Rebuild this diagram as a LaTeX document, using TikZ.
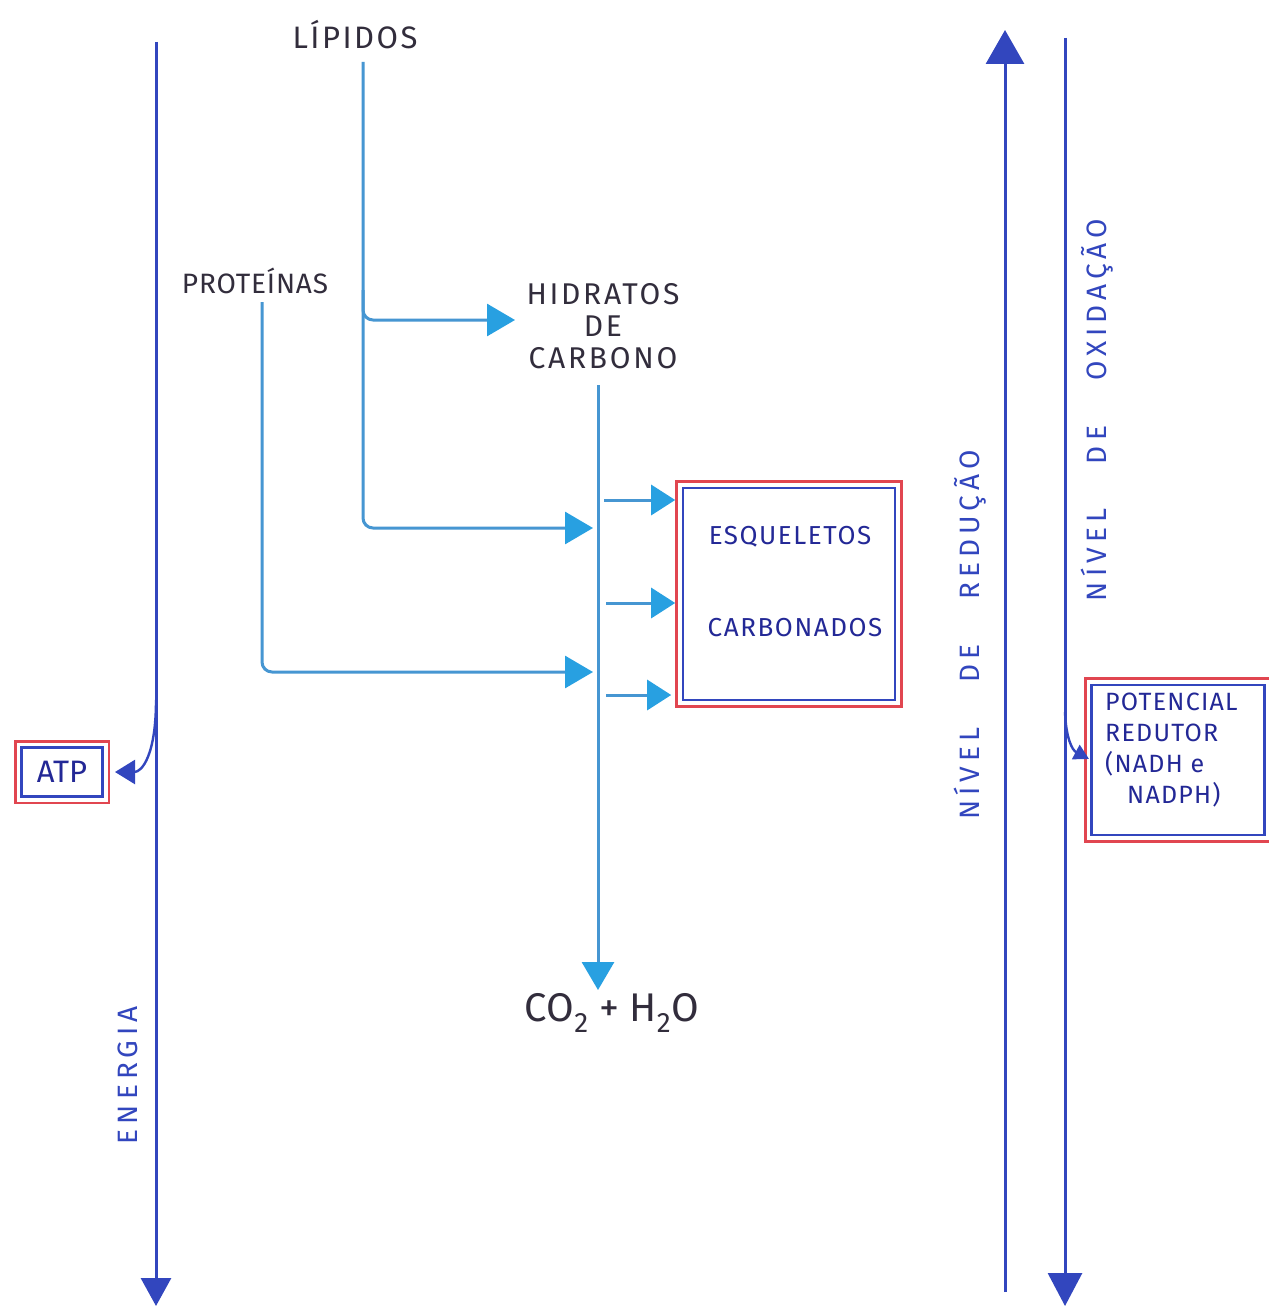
\documentclass[tikz,border=0pt]{standalone}
\usepackage{fontspec}
\setmainfont{Fira Sans}
\usetikzlibrary{arrows.meta,fit}
\definecolor{lb}{RGB}{70,150,210}
\definecolor{ah}{RGB}{40,160,225}
\definecolor{db}{RGB}{50,70,190}
\definecolor{tb}{RGB}{35,40,150}
\definecolor{tk}{RGB}{50,45,60}
\definecolor{rd}{RGB}{225,70,80}
\begin{document}
\begin{tikzpicture}[x=1pt,y=-1pt,
  flow/.style={draw=lb, line width=3pt, rounded corners=10pt},
  flowarrow/.style={flow, -{Triangle[length=28pt,width=32pt,color=ah]}},
  smallarrow/.style={flow, -{Triangle[length=24pt,width=30pt,color=ah]}},
  axis/.style={draw=db, line width=3pt},
  darklabel/.style={text=tk, inner sep=0pt, font=\fontsize{31}{34}\selectfont\addfontfeatures{LetterSpace=8}},
  bluelabel/.style={text=tb, inner sep=0pt, font=\fontsize{26}{31}\selectfont\addfontfeatures{LetterSpace=6}},
  sidelabel/.style={text=db, inner sep=0pt, rotate=90, font=\fontsize{28}{30}\selectfont\addfontfeatures{LetterSpace=18}},
  bluebox/.style={draw=db, line width=2.8pt, inner sep=0pt},
  redframe/.style={draw=rd, line width=2.8pt, inner sep=5pt}
]
\fill[white] (0,0) rectangle (1268,1308);
\useasboundingbox (0,0) rectangle (1268,1308);

% --- texts
\node[darklabel] (lip) at (355,35) {LÍPIDOS};
\node[darklabel, font=\fontsize{28}{30}\selectfont\addfontfeatures{LetterSpace=3}] (prot) at (255,281) {PROTEÍNAS};
\node[darklabel, align=center, font=\fontsize{30}{32}\selectfont\addfontfeatures{LetterSpace=9}] (hid) at (603,326) {HIDRATOS\\DE\\CARBONO};
\node[darklabel, font=\fontsize{40}{44}\selectfont] (co2) at (612,1013) {CO\textsubscript{2} + H\textsubscript{2}O};

% --- boxes
\node[bluebox, minimum width=212pt, minimum height=212pt] (esq) at (789,594) {};
\node[redframe, fit=(esq)] (esqr) {};
\node[bluelabel] (esq1) at (790,537) {ESQUELETOS};
\node[bluelabel] (esq2) at (795,628) {CARBONADOS};

\node[bluebox, minimum width=81pt, minimum height=49pt, text=tb, font=\fontsize{31}{34}\selectfont] (atp) at (62,772) {ATP};
\node[redframe, fit=(atp)] (atpr) {};

\node[bluebox, minimum width=173pt, minimum height=150pt] (pot) at (1178,760) {};
\node[redframe, fit=(pot)] (potr) {};
\node[bluelabel, anchor=north west, align=left, font=\fontsize{25}{31}\selectfont\addfontfeatures{LetterSpace=5}] (pott) at (1105,693) {POTENCIAL\\REDUTOR\\(NADH e\\\hspace{22pt}NADPH)};

% --- side labels
\node[sidelabel] (en) at (128,1075) {ENERGIA};
\node[sidelabel] (red) at (970,635) {NÍVEL\hspace{45pt}DE\hspace{45pt}REDUÇÃO};
\node[sidelabel] (oxi) at (1097,410) {NÍVEL\hspace{45pt}DE\hspace{45pt}OXIDAÇÃO};

% --- coordinates
\coordinate (eT) at (156,42);
\coordinate (eB) at (156,1306);
\coordinate (rB) at (1005,1292);
\coordinate (rT) at (1005,30);
\coordinate (oT) at (1065,38);
\coordinate (oB) at (1065,1306);
\coordinate (eBr) at (156,700);
\coordinate (atpTip) at (115,772);
\coordinate (oBr) at (1065,712);
\coordinate (potTip) at (1089,759);

\coordinate (lipS) at (363,62);
\coordinate (lipBr) at (363,290);
\coordinate (hidW) at (515,320);
\coordinate (lipE) at (593,528);
\coordinate (protS) at (262,302);
\coordinate (protE) at (593,672);
\coordinate (hidS) at (598,385);
\coordinate (co2N) at (598,990);
\coordinate (a1s) at (604,500);
\coordinate (a2s) at (606,603);
\coordinate (a3s) at (606,695);

% --- axes
\draw[axis, -{Triangle[length=28pt,width=30pt,color=db]}] (eT) -- (eB);
\draw[axis, -{Triangle[length=34pt,width=38pt,color=db]}] (rB) -- (rT);
\draw[axis, -{Triangle[length=33pt,width=34pt,color=db]}] (oT) -- (oB);
\draw[axis, line width=2.4pt, -{Triangle[length=20pt,width=24pt,color=db]}] (eBr) .. controls (156,755) and (142,772) .. (atpTip);
\draw[axis, line width=2.4pt, -{Triangle[length=15pt,width=16pt,color=db]}] (oBr) .. controls (1066,738) and (1072,750) .. (potTip);

% --- flows
\draw[flowarrow] (lipS) |- (lipE);
\draw[flowarrow] (lipBr) |- (hidW);
\draw[flowarrow] (protS) |- (protE);
\draw[flowarrow] (hidS) -- (co2N);
\draw[smallarrow] (a1s) -- (esqr.west |- a1s);
\draw[smallarrow] (a2s) -- (esqr.west |- a2s);
\draw[smallarrow] (a3s) -- ([xshift=-4pt]esqr.west |- a3s);
\end{tikzpicture}
\end{document}
